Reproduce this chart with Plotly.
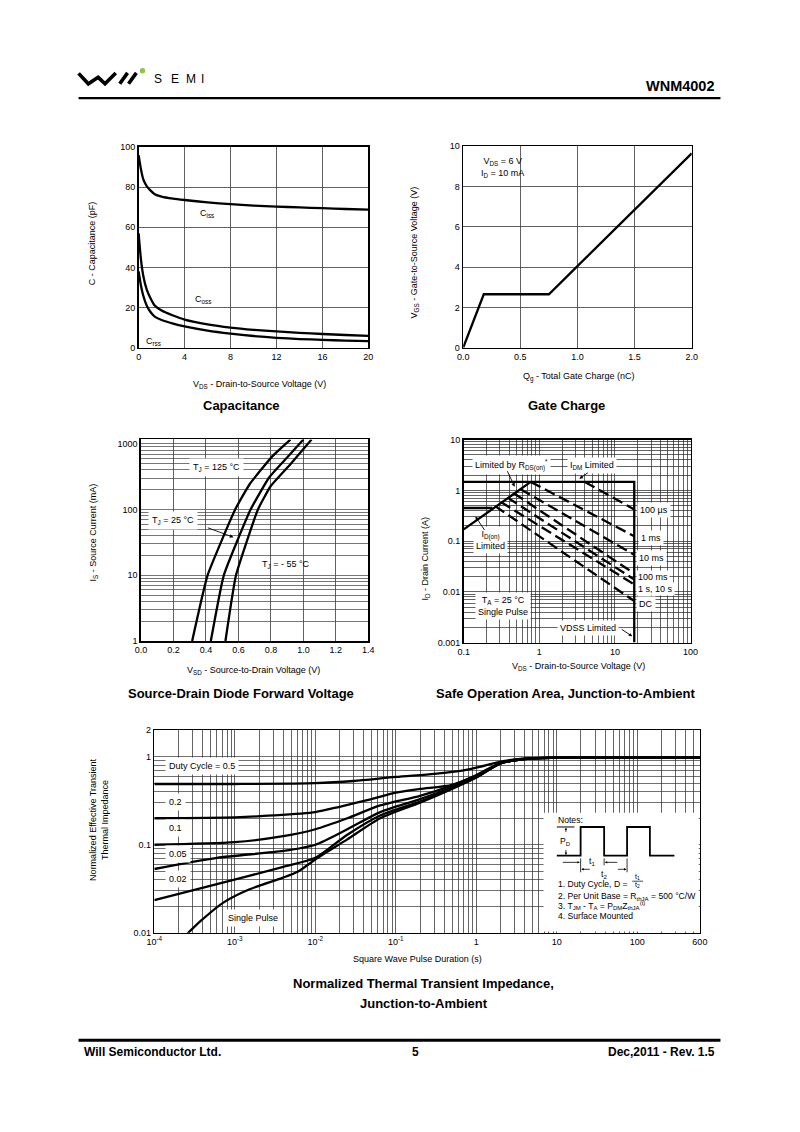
import math
import plotly.graph_objects as go

W, H = 800, 1132
FONT = "Liberation Sans, Arial, Helvetica, sans-serif"

# ===================== DATA =====================
cap_vds = [0, 0.2, 0.4, 0.7, 1.0, 1.4, 2, 3, 4, 6, 8, 10, 12, 14, 16, 18, 20]
cap_ciss = [96, 89, 84, 80.5, 78.5, 76.5, 75.3, 74.3, 73.6, 72.4, 71.5, 70.8, 70.3, 69.9, 69.5, 69.1, 68.8]
cap_coss = [57, 44, 36, 29, 25, 21, 18.5, 16, 14, 11.6, 10, 8.9, 8.1, 7.4, 6.8, 6.3, 5.9]
cap_crss = [38, 31, 26, 21, 18, 15.5, 13.8, 12, 10.6, 8.5, 7, 5.8, 4.9, 4.3, 3.9, 3.5, 3.2]

gc_qg = [0, 0.18, 0.75, 2.0]
gc_vgs = [0, 2.65, 2.65, 9.65]

sd_v_125 = [0.315, 0.41, 0.58, 0.67, 0.81, 0.92]
sd_i_125 = [1, 10, 100, 245, 650, 1160]
sd_v_25 = [0.43, 0.51, 0.675, 0.79, 0.90, 1.0]
sd_i_25 = [1, 10, 100, 310, 620, 1160]
sd_v_m55 = [0.52, 0.585, 0.72, 0.80, 0.92, 1.05]
sd_i_m55 = [1, 10, 100, 230, 490, 1160]

soa_idm_x = [0.1, 18, 18]
soa_idm_y = [1.47, 1.47, 0.001]
soa_idon_x = [0.1, 0.24]
soa_idon_y = [0.45, 0.45]
soa_rds_x = [0.1, 0.77]
soa_rds_y = [0.17, 1.47]
soa_pulse_labels = ["100 µs", "1 ms", "10 ms", "100 ms", "1 s", "10 s", "DC"]
soa_start_x = [4.0, 0.77, 0.56, 0.46, 0.38, 0.31, 0.26]
soa_start_y = [1.47, 1.47, 1.07, 0.88, 0.72, 0.59, 0.49]
soa_end_x = [18, 18, 18, 18, 18, 18, 18]
soa_end_y = [0.42, 0.125, 0.054, 0.023, 0.0175, 0.014, 0.0066]

th_t_05 = [1e-4, 1e-3, 1e-2, 3e-2, 0.1, 0.3, 0.7, 1, 2, 3, 5, 10, 600]
th_z_05 = [0.49, 0.49, 0.50, 0.53, 0.59, 0.64, 0.70, 0.75, 0.88, 0.93, 0.965, 0.975, 0.975]
th_t_02 = [1e-4, 1e-3, 3e-3, 1e-2, 2e-2, 5e-2, 0.1, 0.2, 0.5, 1, 2, 4, 10, 600]
th_z_02 = [0.20, 0.205, 0.215, 0.235, 0.27, 0.33, 0.39, 0.43, 0.48, 0.62, 0.85, 0.95, 0.975, 0.975]
th_t_01 = [1e-4, 1e-3, 4e-3, 1e-2, 2.5e-2, 6.4e-2, 0.2, 0.5, 1, 2, 4, 10, 600]
th_z_01 = [0.10, 0.107, 0.125, 0.15, 0.20, 0.28, 0.36, 0.47, 0.60, 0.84, 0.94, 0.975, 0.975]
th_t_005 = [1e-4, 6e-4, 4e-3, 1e-2, 2.5e-2, 6.4e-2, 0.2, 0.5, 1, 2, 4, 10, 600]
th_z_005 = [0.053, 0.071, 0.085, 0.10, 0.15, 0.235, 0.33, 0.45, 0.59, 0.84, 0.94, 0.975, 0.975]
th_t_002 = [1e-4, 6e-4, 4e-3, 1e-2, 2.5e-2, 6.4e-2, 0.2, 0.5, 1, 2, 4, 10, 600]
th_z_002 = [0.0235, 0.0356, 0.056, 0.071, 0.13, 0.215, 0.31, 0.44, 0.58, 0.84, 0.94, 0.975, 0.975]
th_t_sp = [2.5e-4, 3.8e-4, 7.2e-4, 1.5e-3, 3.9e-3, 6.2e-3, 1e-2, 2.5e-2, 6.4e-2, 0.2, 0.5, 1, 2, 4, 10, 600]
th_z_sp = [0.0095, 0.0137, 0.022, 0.031, 0.042, 0.050, 0.068, 0.115, 0.20, 0.30, 0.43, 0.58, 0.84, 0.94, 0.975, 0.975]

sd_y_ticks = {1: "1", 10: "10", 100: "100", 1000: "1000"}
soa_x_ticks = {0.1: "0.1", 1: "1", 10: "10", 100: "100"}
soa_y_ticks = {0.001: "0.001", 0.01: "0.01", 0.1: "0.1", 1: "1", 10: "10"}
th_x_ticks = {1e-4: "10<sup>-4</sup>", 1e-3: "10<sup>-3</sup>", 1e-2: "10<sup>-2</sup>",
              1e-1: "10<sup>-1</sup>", 1: "1", 10: "10", 100: "100", 600: "600"}
th_y_ticks = {0.01: "0.01", 0.1: "0.1", 1: "1", 2: "2"}


# ===================== HELPERS =====================
def dom_x(x0, x1):
    return [x0 / W, x1 / W]


def dom_y(y0, y1):
    return [1 - y1 / H, 1 - y0 / H]


def log_minor(e0, e1, vmax):
    vals = []
    for e in range(e0, e1 + 1):
        for m in range(2, 10):
            v = m * 10.0 ** e
            if v <= vmax * 1.0001:
                vals.append(v)
    return vals


TICKFONT = dict(family=FONT, size=9, color="black")


def axis(**kw):
    d = dict(showline=True, linecolor="black", linewidth=1.6, mirror=True,
             showgrid=True, gridcolor="#3a3a3a", gridwidth=0.8, zeroline=False,
             ticks="", tickfont=TICKFONT, fixedrange=True)
    d.update(kw)
    return d


def log_axis(labels, minor_vals, gridcolor, gridwidth, **kw):
    return axis(type="log", tickvals=list(labels.keys()), ticktext=list(labels.values()),
                gridcolor=gridcolor, gridwidth=gridwidth,
                minor=dict(tickvals=minor_vals, showgrid=True, gridcolor=gridcolor,
                           gridwidth=gridwidth, ticks=""), **kw)


ann = []
shapes = []


def txt(x, y, s, size=9, bold=False, xanchor="center", yanchor="middle", angle=0, bg=None, pad=1):
    a = dict(x=x / W, y=1 - y / H, xref="paper", yref="paper",
             text=("<b>" + s + "</b>") if bold else s, showarrow=False,
             font=dict(family=FONT, size=size, color="black"),
             xanchor=xanchor, yanchor=yanchor, textangle=angle)
    if bg:
        a["bgcolor"] = bg
        a["borderpad"] = pad
    ann.append(a)


def arrow(x0, y0, x1, y1, width=0.9, size=0.8, head=2):
    ann.append(dict(x=x1 / W, y=1 - y1 / H, xref="paper", yref="paper",
                    ax=x0 - x1, ay=y0 - y1, axref="pixel", ayref="pixel", text="",
                    showarrow=True, arrowhead=head, arrowwidth=width, arrowsize=size,
                    arrowcolor="black"))


def seg(pts, w=1.2, color="black"):
    path = "M " + " L ".join(f"{x / W:.5f},{1 - y / H:.5f}" for x, y in pts)
    shapes.append(dict(type="path", path=path, xref="paper", yref="paper",
                       line=dict(color=color, width=w), layer="above"))


def rect(x0, y0, x1, y1, fill="white"):
    shapes.append(dict(type="rect", xref="paper", yref="paper", x0=x0 / W, x1=x1 / W,
                       y0=1 - y1 / H, y1=1 - y0 / H, fillcolor=fill,
                       line=dict(width=0), layer="above"))


# ===================== FIGURE =====================
fig = go.Figure()
CURVE = dict(color="black", width=2.3)

for ys in (cap_ciss, cap_coss, cap_crss):
    fig.add_trace(go.Scatter(x=cap_vds, y=ys, mode="lines", line=dict(CURVE, shape="spline", smoothing=0.6),
                             xaxis="x", yaxis="y", hoverinfo="skip"))
fig.add_trace(go.Scatter(x=gc_qg, y=gc_vgs, mode="lines", line=CURVE, xaxis="x2", yaxis="y2", hoverinfo="skip"))
for xs, ys in ((sd_v_125, sd_i_125), (sd_v_25, sd_i_25), (sd_v_m55, sd_i_m55)):
    fig.add_trace(go.Scatter(x=xs, y=ys, mode="lines", line=dict(CURVE, shape="spline", smoothing=0.4),
                             xaxis="x3", yaxis="y3", hoverinfo="skip"))
for xs, ys in ((soa_idm_x, soa_idm_y), (soa_idon_x, soa_idon_y), (soa_rds_x, soa_rds_y)):
    fig.add_trace(go.Scatter(x=xs, y=ys, mode="lines", line=CURVE, xaxis="x4", yaxis="y4", hoverinfo="skip"))
for i in range(len(soa_pulse_labels)):
    fig.add_trace(go.Scatter(x=[soa_start_x[i], soa_end_x[i]], y=[soa_start_y[i], soa_end_y[i]],
                             mode="lines", line=dict(color="black", width=2.3, dash="11px,5px"),
                             xaxis="x4", yaxis="y4", hoverinfo="skip"))
for xs, ys in ((th_t_05, th_z_05), (th_t_02, th_z_02), (th_t_01, th_z_01),
               (th_t_005, th_z_005), (th_t_002, th_z_002), (th_t_sp, th_z_sp)):
    fig.add_trace(go.Scatter(x=xs, y=ys, mode="lines", line=dict(CURVE, shape="spline", smoothing=0.7),
                             xaxis="x5", yaxis="y5", hoverinfo="skip"))

fig.update_layout(
    width=W, height=H, autosize=False, margin=dict(l=0, r=0, t=0, b=0),
    paper_bgcolor="white", plot_bgcolor="white", showlegend=False,
    xaxis=axis(domain=dom_x(133.3, 367.7), range=[0, 20], dtick=4, anchor="y"),
    yaxis=axis(domain=dom_y(143.3, 345.7), range=[0, 100], dtick=20, anchor="x"),
    xaxis2=axis(domain=dom_x(464.5, 697.7), range=[0, 2], tickvals=[0, 0.5, 1, 1.5, 2],
                ticktext=["0.0", "0.5", "1.0", "1.5", "2.0"], anchor="y2"),
    yaxis2=axis(domain=dom_y(142.5, 345.7), range=[0, 10], dtick=2, anchor="x2"),
    xaxis3=axis(domain=dom_x(135.7, 367.7), range=[0, 1.4], dtick=0.2, tickformat=".1f", anchor="y3"),
    yaxis3=log_axis(sd_y_ticks, log_minor(0, 2, 1000), "#555", 0.8,
                    domain=dom_y(438.3, 641.7), range=[0, 3.067], anchor="x3"),
    xaxis4=log_axis(soa_x_ticks, log_minor(-1, 1, 100), "#222", 0.7,
                    domain=dom_x(465, 696.5), range=[-1, 2], anchor="y4"),
    yaxis4=log_axis(soa_y_ticks, log_minor(-3, 0, 10), "#222", 0.7,
                    domain=dom_y(438.5, 643.3), range=[-3, 1], anchor="x4"),
    xaxis5=log_axis(th_x_ticks, log_minor(-4, 2, 500), "#222", 0.7,
                    domain=dom_x(149.3, 706), range=[-4, math.log10(600)], anchor="y5"),
    yaxis5=log_axis(th_y_ticks, log_minor(-2, -1, 1), "#333", 0.7,
                    domain=dom_y(731.7, 936), range=[-2, math.log10(2)], anchor="x5"),
)

# ----- header -----
seg([(72, 69), (82, 79.5), (92, 73), (99, 79.5), (110, 68.5)], w=3.6)
seg([(114, 79.5), (122, 68.5)], w=3.6)
seg([(123, 79.5), (131, 68.5)], w=3.6)
shapes.append(dict(type="circle", xref="paper", yref="paper", x0=134.5 / W, x1=140 / W,
                   y0=1 - 69 / H, y1=1 - 63.5 / H, fillcolor="#8dc63f", line=dict(width=0)))
for cx, ch in ((153, "S"), (170.5, "E"), (186.5, "M"), (198.5, "I")):
    txt(cx, 75, ch, size=12)
txt(723, 82, "WNM4002", size=14.5, bold=True, xanchor="right")
seg([(72, 94), (727, 94)], w=2.3)

# ----- footer -----
seg([(72, 1044.5), (727, 1044.5)], w=2.8)
txt(76, 1056, "Will Semiconductor Ltd.", size=12, bold=True, xanchor="left")
txt(416, 1056, "5", size=12, bold=True)
txt(723, 1056, "Dec,2011 - Rev. 1.5", size=12, bold=True, xanchor="right")

# ----- capacitance texts -----
txt(257, 383, "V<sub>DS</sub> - Drain-to-Source Voltage (V)")
txt(86, 240, "C - Capacitance (pF)", angle=-90)
txt(238, 404, "Capacitance", size=13, bold=True)
txt(203, 210, "C<sub>iss</sub>")
txt(199, 297, "C<sub>oss</sub>")
txt(148, 339, "C<sub>rss</sub>")

# ----- gate charge texts -----
txt(582, 375, "Q<sub>g</sub> - Total Gate Charge (nC)")
txt(415, 250, "V<sub>GS</sub> - Gate-to-Source Voltage (V)", angle=-90)
txt(570, 404, "Gate Charge", size=13, bold=True)
txt(481, 164, "V<sub>DS</sub> = 6 V<br>I<sub>D</sub> = 10 mA", xanchor="left")

# ----- source-drain texts -----
txt(251, 671, "V<sub>SD</sub> - Source-to-Drain Voltage (V)")
txt(87, 532, "I<sub>S</sub> - Source Current (mA)", angle=-90)
txt(238, 695, "Source-Drain Diode Forward Voltage", size=13, bold=True)
txt(213, 467, "T<sub>J</sub> = 125 °C", bg="white", pad=3)
txt(168, 520, "T<sub>J</sub> = 25 °C", bg="white", pad=3)
txt(284, 564, "T<sub>J</sub> = - 55 °C")
arrow(203, 527, 230, 537)

# ----- SOA texts -----
txt(582, 667, "V<sub>DS</sub> - Drain-to-Source Voltage (V)")
txt(426, 558, "I<sub>D</sub> - Drain Current (A)", angle=-90)
txt(569, 695, "Safe Operation Area, Junction-to-Ambient", size=13, bold=True)
txt(514, 464, "Limited by R<sub>DS(on)</sub><sup>*</sup>", bg="white", pad=2)
txt(596, 465, "I<sub>DM</sub> Limited", bg="white", pad=2)
txt(492, 540, "I<sub>D(on)</sub><br>Limited", bg="white", pad=2)
txt(659, 510, soa_pulse_labels[0], bg="white", pad=2)
txt(656, 537.5, soa_pulse_labels[1], bg="white", pad=2)
txt(657, 558, soa_pulse_labels[2], bg="white", pad=2)
txt(658, 577.5, soa_pulse_labels[3], bg="white", pad=1)
txt(661, 589, soa_pulse_labels[4] + ", " + soa_pulse_labels[5], bg="white", pad=1)
txt(651, 604, soa_pulse_labels[6], bg="white", pad=2)
txt(505, 606.5, "T<sub>A</sub> = 25 °C<br>Single Pulse", bg="white", pad=2)
txt(592, 629, "VDSS Limited", bg="white", pad=2)
arrow(509, 469, 517, 486)
arrow(593, 471, 583, 478)
arrow(487, 531, 477, 516)
arrow(625, 629, 637, 637)

# ----- thermal texts -----
txt(418, 963, "Square Wave Pulse Duration (s)")
txt(93, 822, "Normalized Effective Transient<br>Thermal Impedance", angle=-90)
txt(424, 987, "Normalized Thermal Transient Impedance,", size=13, bold=True)
txt(424, 1007, "Junction-to-Ambient", size=13, bold=True)
txt(160, 767.5, "Duty Cycle = 0.5", xanchor="left", bg="white", pad=3)
txt(160, 804, "0.2", xanchor="left", bg="white", pad=3)
txt(160, 830, "0.1", xanchor="left", bg="white", pad=3)
txt(160, 856.5, "0.05", xanchor="left", bg="white", pad=3)
txt(160, 882, "0.02", xanchor="left", bg="white", pad=3)
txt(250, 921, "Single Pulse", bg="white", pad=3)

# notes box
NS = 8.6
rect(546.5, 815, 704.8, 934.8)
txt(559, 822, "Notes:", size=NS, xanchor="left")
seg([(560, 858.3), (584.3, 858.3), (584.3, 829.3), (608.3, 829.3), (608.3, 858.3),
     (631.7, 858.3), (631.7, 829.3), (655, 829.3), (655, 858.3), (680, 858.3)], w=1.8)
seg([(560, 829.3), (578, 829.3)], w=1)
arrow(569.3, 836, 569.3, 830, width=0.8, size=0.6)
arrow(569.3, 851, 569.3, 857.5, width=0.8, size=0.6)
txt(569.3, 843.5, "P<sub>D</sub>", size=NS)
arrow(565, 865, 583.5, 865, width=0.8, size=0.6)
arrow(623, 865, 609, 865, width=0.8, size=0.6)
txt(596, 864, "t<sub>1</sub>", size=NS)
seg([(584.3, 861), (584.3, 875)], w=0.8)
seg([(608.3, 861), (608.3, 868)], w=0.8)
seg([(631.7, 861), (631.7, 875)], w=0.8)
arrow(595, 872, 585, 872, width=0.8, size=0.6)
arrow(621, 872, 631, 872, width=0.8, size=0.6)
txt(608.3, 877.5, "t<sub>2</sub>", size=NS)
txt(559, 886.5, "1. Duty Cycle, D = ", size=NS, xanchor="left")
txt(642, 880, "t<sub>1</sub>", size=7)
seg([(637, 884), (648, 884)], w=0.7)
txt(642, 888, "t<sub>2</sub>", size=7)
txt(559, 899.5, "2. Per Unit Base = R<sub>thJA</sub> = 500 °C/W", size=NS, xanchor="left")
txt(559, 909, "3. T<sub>JM</sub> - T<sub>A</sub> = P<sub>DM</sub>Z<sub>thJA</sub><sup>(t)</sup>", size=NS, xanchor="left")
txt(559, 919, "4. Surface Mounted", size=NS, xanchor="left")

fig.update_layout(annotations=ann, shapes=shapes)
fig.write_html("out.html", config={"displayModeBar": False, "staticPlot": True},
               post_script="document.documentElement.style.margin='0';document.body.style.margin='0';"
                           "document.documentElement.style.overflow='hidden';document.body.style.overflow='hidden';")
